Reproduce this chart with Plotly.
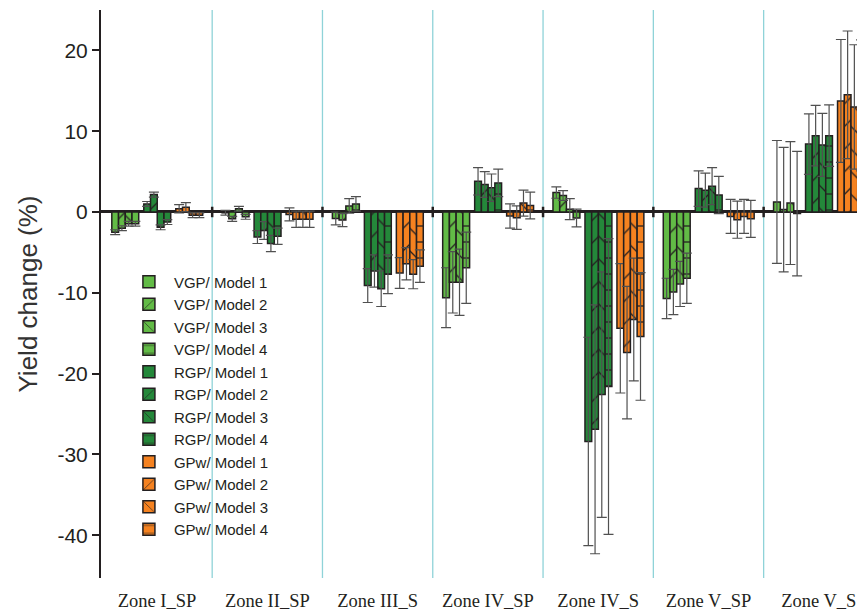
import plotly.graph_objects as go

zones = ["Zone I_SP", "Zone II_SP", "Zone III_S", "Zone IV_SP", "Zone IV_S", "Zone V_SP", "Zone V_S"]
models = ["Model 1", "Model 2", "Model 3", "Model 4"]
groups = ["VGP", "RGP", "GPw"]

# values per model (rows) across zones (columns)
vgp_vals = [
    [-2.5, -0.1, -0.8, -10.6, 2.4, -10.7, 1.25],
    [-2.0, -0.85, -1.0, -8.7, 2.05, -9.9, 0.3],
    [-1.45, 0.4, 0.75, -8.7, 0.35, -8.9, 1.1],
    [-1.45, -0.6, 1.0, -6.9, -0.75, -8.2, -0.2],
]
vgp_err = [
    [0.3, 0.3, 0.8, 3.7, 0.7, 2.5, 7.6],
    [0.3, 0.3, 0.8, 3.8, 0.6, 2.8, 7.7],
    [0.3, 0.3, 0.9, 4.1, 1.3, 2.8, 7.6],
    [0.3, 0.3, 0.9, 4.4, 1.1, 3.1, 7.7],
]
rgp_vals = [
    [1.0, -3.1, -9.1, 3.8, -28.4, 2.9, 8.4],
    [2.15, -2.3, -7.3, 3.4, -26.9, 2.7, 9.45],
    [-1.9, -3.9, -9.5, 3.0, -22.6, 3.2, 8.3],
    [-1.25, -3.0, -7.7, 3.6, -21.6, 2.1, 9.45],
]
rgp_err = [
    [0.3, 0.8, 2.1, 1.7, 12.9, 2.2, 3.75],
    [0.3, 1.1, 2.0, 1.6, 15.4, 2.1, 3.75],
    [0.3, 1.0, 2.2, 1.7, 15.2, 2.3, 3.9],
    [0.3, 1.0, 2.4, 1.7, 18.3, 2.3, 3.8],
]
gpw_vals = [
    [0.4, -0.3, -7.55, -0.5, -14.4, -0.55, 13.75],
    [0.6, -0.9, -6.4, -0.7, -17.4, -0.95, 14.5],
    [-0.4, -0.9, -7.7, 1.1, -13.3, -0.55, 13.0],
    [-0.4, -0.9, -6.7, 0.8, -15.4, -0.85, 13.2],
]
gpw_err = [
    [0.5, 0.8, 1.9, 1.5, 8.0, 2.1, 7.6],
    [0.55, 1.0, 2.0, 1.45, 8.2, 2.3, 7.9],
    [0.3, 1.0, 1.8, 1.6, 7.6, 2.1, 7.7],
    [0.3, 1.0, 2.0, 1.65, 7.9, 2.3, 8.1],
]

yticks = [20, 10, 0, -10, -20, -30, -40]
ytick_text = ["20", "10", "0", "-10", "-20", "-30", "-40"]

group_colors = {"VGP": "#62bb46", "RGP": "#24883a", "GPw": "#f58220"}
model_shapes = ["", "/", "\\", "-"]
outline = "#231f20"
text_col = "#231f20"

vals = {"VGP": vgp_vals, "RGP": rgp_vals, "GPw": gpw_vals}
errs = {"VGP": vgp_err, "RGP": rgp_err, "GPw": gpw_err}

xpos = list(range(len(zones)))
bar_w = 0.061
set_step = 0.29
start0 = -0.41

fig = go.Figure()
for gi, g in enumerate(groups):
    for mi, m in enumerate(models):
        off = start0 + gi * set_step + mi * bar_w
        fig.add_trace(go.Bar(
            x=xpos, y=vals[g][mi],
            name=f"{g}/ {m}",
            offset=off, width=bar_w,
            marker=dict(
                color=group_colors[g],
                line=dict(color=outline, width=1.5),
                pattern=dict(shape=model_shapes[mi], fgcolor=outline,
                             bgcolor=group_colors[g], fillmode="replace",
                             size=16, solidity=0.08),
            ),
            error_y=dict(type="data", array=errs[g][mi], visible=True,
                         color="#505050", thickness=1.2, width=5),
        ))

shapes = []
for i in range(len(zones) - 1):
    shapes.append(dict(type="line", xref="x", yref="paper", x0=i + 0.5, x1=i + 0.5,
                       y0=0, y1=1, line=dict(color="#8fd3d8", width=1.3), layer="below"))
    shapes.append(dict(type="line", xref="x", yref="y", x0=i + 0.5, x1=i + 0.5,
                       y0=-0.65, y1=0.65, line=dict(color=outline, width=2.5)))

fig.update_layout(
    width=857, height=603,
    margin=dict(l=93, r=0, t=2, b=33),
    paper_bgcolor="white", plot_bgcolor="white",
    barmode="overlay",
    showlegend=True,
    shapes=shapes,
    legend=dict(x=0.03, y=0.55, xanchor="left", yanchor="top",
                bgcolor="rgba(0,0,0,0)", font=dict(family="Liberation Sans, Arial", size=15, color=text_col),
                tracegroupgap=0, itemwidth=40),
    font=dict(family="Liberation Sans, Arial", color=text_col),
)
fig.update_xaxes(
    range=[-0.508, 6.419],
    tickmode="array", tickvals=xpos, ticktext=zones,
    tickfont=dict(family="Liberation Serif, Times New Roman", size=18.5, color=text_col),
    showgrid=False, zeroline=False, showline=False, ticks="",
    automargin=False, ticklabelstandoff=9,
)
fig.update_yaxes(
    range=[-45.3, 25.0],
    tickmode="array", tickvals=yticks, ticktext=ytick_text,
    tickfont=dict(size=21, color=text_col),
    ticks="outside", ticklen=7, tickwidth=1.5, tickcolor=outline,
    showline=True, linecolor=outline, linewidth=2,
    showgrid=False,
    zeroline=True, zerolinecolor=outline, zerolinewidth=2.5,
    title=dict(text="Yield change (%)", font=dict(size=26, color="#333333"), standoff=12),
    automargin=False,
)

fig.write_html("out.html")
